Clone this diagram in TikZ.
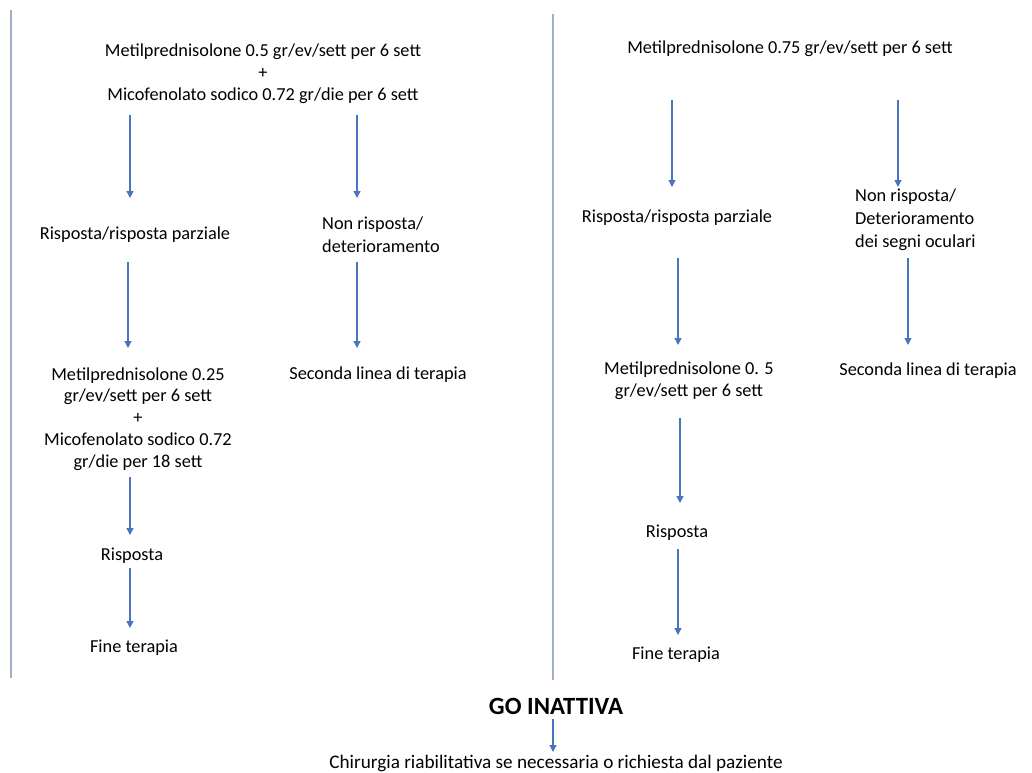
\documentclass[tikz,border=0pt]{standalone}
\usepackage{fontspec}
\setmainfont{Carlito}
\usetikzlibrary{arrows.meta}
\definecolor{arrblue}{HTML}{4A74BC}
\definecolor{sepgray}{HTML}{A3AFC6}
\tikzset{
  txt/.style={inner sep=0pt, align=center, font=\fontsize{18.3}{21.8}\selectfont},
  txtl/.style={inner sep=0pt, align=left, anchor=west, font=\fontsize{18.3}{23}\selectfont},
  arr/.style={draw=arrblue, line width=1.3pt, -{Triangle[width=7pt,length=7pt]}},
  sep/.style={draw=sepgray, line width=1.1pt}
}
\begin{document}
\begin{tikzpicture}[x=1pt,y=-1pt]
\useasboundingbox (0,0) rectangle (1032,772);
% separators
\coordinate (s1t) at (11,10); \coordinate (s1b) at (11,678);
\coordinate (s2t) at (553,14); \coordinate (s2b) at (553,680);
\draw[sep] (s1t) -- (s1b);
\draw[sep] (s2t) -- (s2b);
% left column
\node[txt] (A) at (263,73.5) {Metilprednisolone 0.5 gr/ev/sett per 6 sett\\+\\Micofenolato sodico 0.72 gr/die per 6 sett};
\node[txt] (L1) at (135,235) {Risposta/risposta parziale};
\node[txtl] (L2) at (322,235) {Non risposta/\\deterioramento};
\node[txt] (L3) at (138,419) {Metilprednisolone 0.25\\gr/ev/sett per 6 sett\\+\\Micofenolato sodico 0.72\\gr/die per 18 sett};
\node[txt] (L4) at (378,375) {Seconda linea di terapia};
\node[txt] (L5) at (132,556) {Risposta};
\node[txt] (L6) at (134,648) {Fine terapia};
% right column
\node[txt] (B) at (790,49) {Metilprednisolone 0.75 gr/ev/sett per 6 sett};
\node[txt] (R1) at (677,218) {Risposta/risposta parziale};
\node[txtl] (R2) at (855,220) {Non risposta/\\Deterioramento\\dei segni oculari};
\node[txt] (R3) at (689,381) {Metilprednisolone 0. 5\\gr/ev/sett per 6 sett};
\node[txt] (R4) at (928,371) {Seconda linea di terapia};
\node[txt] (R5) at (677,533) {Risposta};
\node[txt] (R6) at (676,655) {Fine terapia};
% bottom
\node[inner sep=0pt, font=\fontsize{24.8}{28}\selectfont\bfseries] (GO) at (556,706) {GO INATTIVA};
\node[inner sep=0pt, font=\fontsize{19.2}{22}\selectfont] (CH) at (556,763) {Chirurgia riabilitativa se necessaria o richiesta dal paziente};
% arrow end points
\coordinate (a1s) at (130,115); \coordinate (a1e) at (130,198);
\coordinate (a2s) at (357,115); \coordinate (a2e) at (357,198);
\coordinate (a3s) at (128,262); \coordinate (a3e) at (128,348);
\coordinate (a4s) at (357,262); \coordinate (a4e) at (357,348);
\coordinate (a5s) at (130,477); \coordinate (a5e) at (130,535);
\coordinate (a6s) at (130,568); \coordinate (a6e) at (130,628);
\coordinate (b1s) at (672,100); \coordinate (b1e) at (672,187);
\coordinate (b2s) at (898,100); \coordinate (b2e) at (898,187);
\coordinate (b3s) at (678,258); \coordinate (b3e) at (678,345);
\coordinate (b4s) at (908,258); \coordinate (b4e) at (908,345);
\coordinate (b5s) at (680,418); \coordinate (b5e) at (680,503);
\coordinate (b6s) at (678,549); \coordinate (b6e) at (678,635);
\coordinate (c1s) at (553,719); \coordinate (c1e) at (553,752);
% arrows
\foreach \n in {a1,a2,a3,a4,a5,a6,b1,b2,b3,b4,b5,b6,c1}
  \draw[arr] (\n s) -- (\n e);
\end{tikzpicture}
\end{document}
